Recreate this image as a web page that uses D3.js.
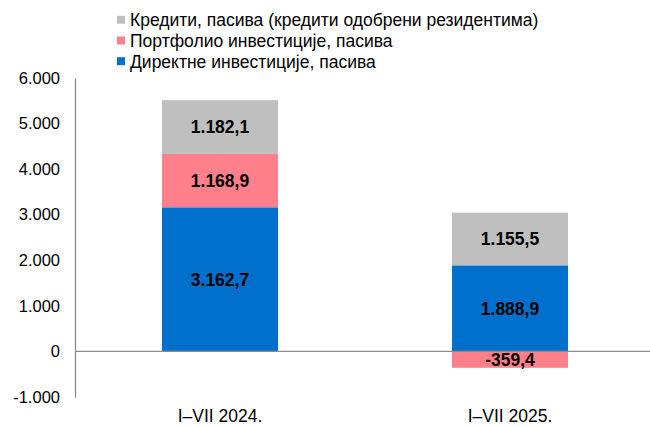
<!DOCTYPE html>
<html lang="sr">
<head>
<meta charset="UTF-8">
<title>Инвестиције, пасива</title>
<script src="https://cdn.jsdelivr.net/npm/d3@7/dist/d3.min.js"></script>
<style>
  body { margin: 0; background: #fff; font-family: "Liberation Sans", Arial, sans-serif; }
</style>
</head>
<body>
<div id="chart"></div>
<script>
// data
const periods = ["I–VII 2024.", "I–VII 2025."];
const seriesKeys = ["direct", "portfolio", "credit"];
const seriesNames = {
  direct: "Директне инвестиције, пасива",
  portfolio: "Портфолио инвестиције, пасива",
  credit: "Кредити, пасива (кредити одобрени резидентима)"
};
const directValues = [3162.7, 1888.9];
const portfolioValues = [1168.9, -359.4];
const creditValues = [1182.1, 1155.5];
const yTicks = [-1000, 0, 1000, 2000, 3000, 4000, 5000, 6000];

const colors = { direct: "#0070CC", portfolio: "#FF808A", credit: "#BFBFBF" };

const width = 650, height = 427;
const svg = d3.select("#chart").append("svg")
  .attr("width", width).attr("height", height)
  .style("font-family", "'Liberation Sans', Arial, sans-serif");

const rows = periods.map((p, i) => ({
  period: p,
  direct: directValues[i],
  portfolio: portfolioValues[i],
  credit: creditValues[i]
}));

const x = d3.scaleBand().domain(periods).range([75, 655])
  .paddingInner(0.6).paddingOuter(0.3);
const y = d3.scaleLinear().domain([-1000, 6000]).range([397, 78]);

const fmt = d3.formatLocale({ decimal: ",", thousands: ".", grouping: [3], currency: ["", ""], minus: "-" });
const fmtTick = fmt.format(",.0f");
const fmtVal = fmt.format(",.1f");

// y axis
const yAxis = svg.append("g").attr("transform", "translate(75,0)")
  .call(d3.axisLeft(y).tickValues(yTicks).tickFormat(fmtTick).tickSize(0).tickPadding(15));
yAxis.select(".domain").attr("stroke", "#8c8c8c").attr("stroke-width", 1.3);
yAxis.selectAll("text").attr("font-size", 16.5).attr("fill", "#000")
  .attr("font-family", "'Liberation Sans', Arial, sans-serif");

// stacked bars
const stack = d3.stack().keys(seriesKeys).offset(d3.stackOffsetDiverging);
const layers = stack(rows);

const g = svg.append("g");
layers.forEach(layer => {
  layer.forEach(d => {
    const y0 = y(d[0]), y1 = y(d[1]);
    g.append("rect")
      .attr("x", x(d.data.period))
      .attr("width", x.bandwidth())
      .attr("y", Math.min(y0, y1))
      .attr("height", Math.abs(y1 - y0))
      .attr("fill", colors[layer.key]);
    g.append("text")
      .attr("x", x(d.data.period) + x.bandwidth() / 2)
      .attr("y", (y0 + y1) / 2)
      .attr("dy", "0.36em")
      .attr("text-anchor", "middle")
      .attr("font-size", 17.5)
      .attr("font-weight", "bold")
      .attr("fill", "#000")
      .text(fmtVal(d.data[layer.key]));
  });
});

// zero line
svg.append("line")
  .attr("x1", 75).attr("x2", 650)
  .attr("y1", y(0)).attr("y2", y(0))
  .attr("stroke", "#8c8c8c").attr("stroke-width", 1.3);

// category labels
svg.selectAll(".cat").data(periods).enter().append("text")
  .attr("x", d => x(d) + x.bandwidth() / 2)
  .attr("y", 422)
  .attr("text-anchor", "middle")
  .attr("font-size", 17.5)
  .attr("fill", "#000")
  .text(d => d);

// legend
const legendKeys = ["credit", "portfolio", "direct"];
const legend = svg.append("g");
legendKeys.forEach((k, i) => {
  const ly = 19.8 + i * 20.7;
  legend.append("rect")
    .attr("x", 117).attr("y", ly - 4).attr("width", 8).attr("height", 8)
    .attr("fill", colors[k]);
  legend.append("text")
    .attr("x", 130).attr("y", ly).attr("dy", "0.36em")
    .attr("font-size", 17.5).attr("fill", "#000")
    .text(seriesNames[k]);
});
</script>
</body>
</html>
